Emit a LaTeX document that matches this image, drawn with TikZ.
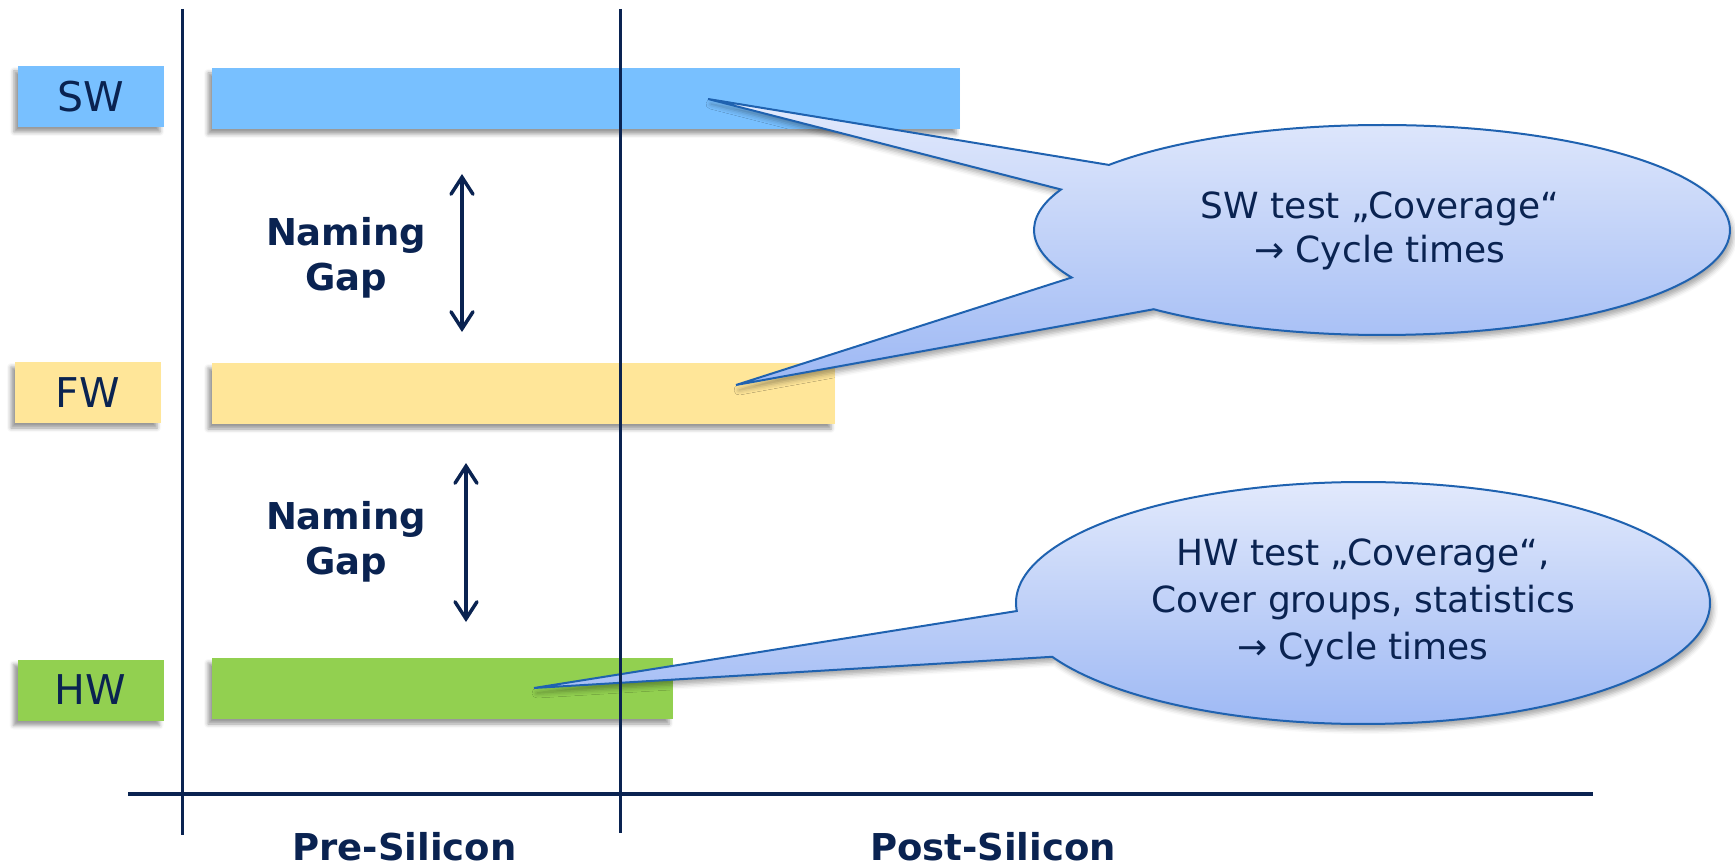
\documentclass[tikz,border=0pt]{standalone}
\usepackage{fontspec}
\setmainfont{DejaVu Sans}
\usetikzlibrary{arrows.meta,shadows.blur,calc}
\definecolor{navy}{HTML}{0A2351}
\definecolor{swblue}{HTML}{78C0FF}
\definecolor{fwyellow}{HTML}{FFE699}
\definecolor{hwgreen}{HTML}{92D050}
\definecolor{callborder}{HTML}{1F62B0}
\definecolor{calltop}{HTML}{E3EAFC}
\definecolor{callbot}{HTML}{9DB8F4}
\begin{document}
\begin{tikzpicture}[x=1pt,y=1pt,
  boxshadow/.style={blur shadow={shadow xshift=-4pt, shadow yshift=-5pt, shadow blur radius=4pt, shadow opacity=40}},
  lbl/.style={draw=none, inner sep=0pt, minimum width=146pt, minimum height=61pt, text=navy, font=\fontsize{41}{49}\selectfont, boxshadow},
  barbox/.style={draw=none, inner sep=0pt, minimum height=61pt, boxshadow},
  gaptext/.style={text=navy, align=center, font=\fontsize{37}{44.5}\selectfont\bfseries},
  axistext/.style={text=navy, font=\fontsize{37}{44.5}\selectfont\bfseries, anchor=base},
  gaparrow/.style={draw=navy, line width=3.5pt, line cap=round, {Straight Barb[length=17pt,width=22pt,line cap=round]}-{Straight Barb[length=17pt,width=22pt,line cap=round]}},
  axisline/.style={draw=navy, line width=3.5pt},
  callout/.style={draw=callborder, line width=2pt, top color=calltop, bottom color=callbot, blur shadow={shadow xshift=3pt, shadow yshift=-5pt, shadow blur radius=5pt, shadow opacity=35}},
  calltext/.style={text=navy, align=center}
]
\useasboundingbox (0,0) rectangle (1735,-866);

% bars
\node[barbox, fill=swblue, minimum width=748pt] (swbar) at (586,-98.5) {};
\node[barbox, fill=fwyellow, minimum width=623pt] (fwbar) at (523.5,-393.5) {};
\node[barbox, fill=hwgreen, minimum width=461pt] (hwbar) at (442.5,-688.5) {};

% labels
\node[lbl, fill=swblue] (swl) at (91,-96.5) {SW};
\node[lbl, fill=fwyellow] (fwl) at (88,-392.5) {FW};
\node[lbl, fill=hwgreen] (hwl) at (90.5,-690) {HW};

% naming gaps
\node[gaptext] (gap1) at (346,-258) {Naming\\Gap};
\node[gaptext] (gap2) at (346,-542) {Naming\\Gap};
\coordinate (g1t) at (462,-174);
\coordinate (g1b) at (462,-332);
\coordinate (g2t) at (466,-463);
\coordinate (g2b) at (466,-622);
\draw[gaparrow] (g1t) -- (g1b);
\draw[gaparrow] (g2t) -- (g2b);

% callout 1
\coordinate (E1) at (1382,-230);
\coordinate (t1) at (708,-99);
\coordinate (t2) at (736,-385);
\path[callout] (t1) -- ($(E1)+(141.7:348 and 105)$)
  arc[start angle=141.7, end angle=-131, x radius=348, y radius=105]
  -- (t2) -- ($(E1)+(206.9:348 and 105)$)
  arc[start angle=206.9, end angle=157.3, x radius=348, y radius=105] -- cycle;
\node[calltext, font=\fontsize{36}{44}\selectfont] (c1t) at (1380,-231) {SW test „Coverage“\\→ Cycle times};

% callout 2
\coordinate (E2) at (1363,-603);
\coordinate (t3) at (534,-688);
\path[callout] (t3) -- ($(E2)+(183.8:347 and 121)$)
  arc[start angle=183.8, end angle=-153.6, x radius=347, y radius=121] -- cycle;
\node[calltext, font=\fontsize{36}{47}\selectfont] (c2t) at (1363,-603) {HW test „Coverage“,\\Cover groups, statistics\\→ Cycle times};

% axes
\coordinate (v1t) at (182,-9);
\coordinate (v1b) at (182,-835);
\coordinate (v2t) at (620,-9);
\coordinate (v2b) at (620,-833);
\coordinate (al) at (128,-794);
\coordinate (ar) at (1593,-794);
\draw[axisline, line width=3pt] (v1t) -- (v1b);
\draw[axisline, line width=3pt] (v2t) -- (v2b);
\draw[axisline] (al) -- (ar);

\node[axistext] (pre) at (404.5,-860) {Pre-Silicon};
\node[axistext] (post) at (993,-860) {Post-Silicon};
\end{tikzpicture}
\end{document}
